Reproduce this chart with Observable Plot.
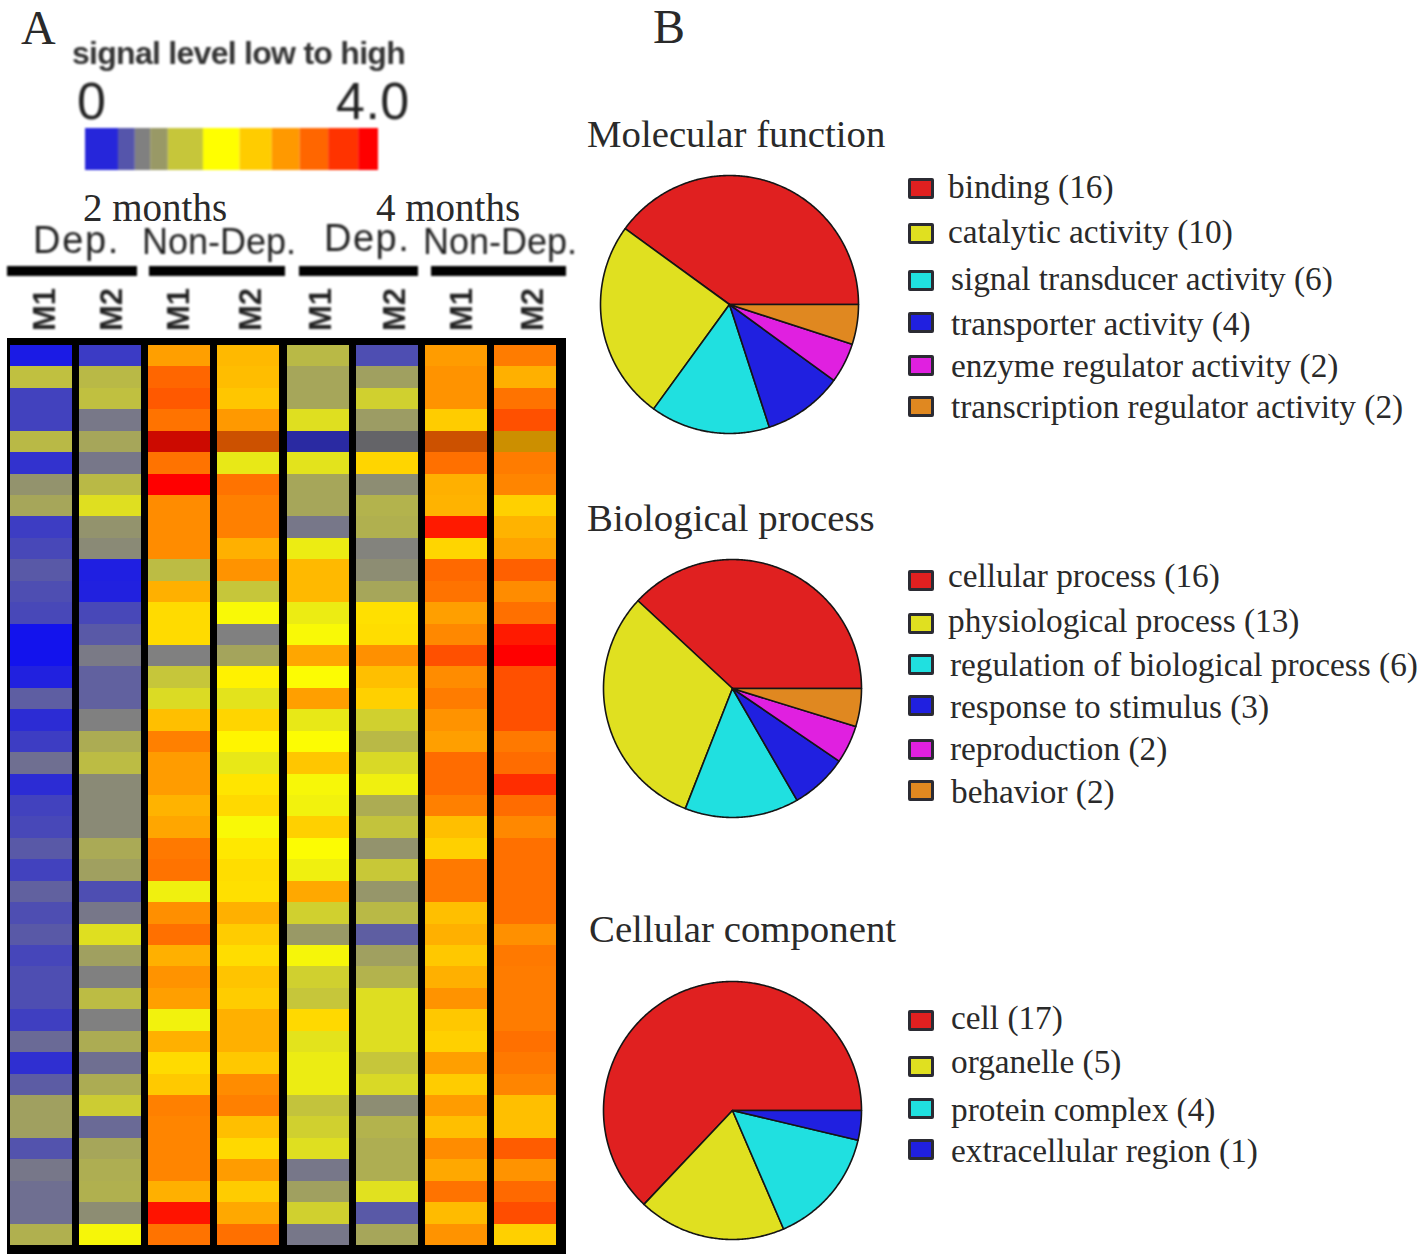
<!DOCTYPE html>
<html><head><meta charset="utf-8">
<script src="https://cdn.jsdelivr.net/npm/d3@7"></script>
<script src="https://cdn.jsdelivr.net/npm/@observablehq/plot@0.6"></script>
<style>
html,body{margin:0;padding:0;background:#fff}
#page{position:relative;width:1428px;height:1256px;overflow:hidden}
#page>*{position:absolute}
.t{white-space:nowrap;line-height:1;color:#2a2a2a}
.serif{font-family:"Liberation Serif",serif}
.sans{font-family:"Liberation Sans",sans-serif;color:#222;filter:blur(.8px)}
.sw{width:20px;height:15px;border:3px solid #2b2b33;border-radius:2px;filter:blur(.7px)}
.heat [aria-label="cell"]{filter:blur(.5px)}
.bar [aria-label="rect"]{filter:blur(.9px)}
.pie [aria-label="geo"]{filter:blur(.35px)}
svg{overflow:visible;background:transparent!important}
</style></head><body><div id="page"></div>
<script>
// ---- Panel A: signal level per probe (rows, top to bottom) and sample column
const dep2M1 =[.1,1.5,.45,.45,1.45,.3,1.15,1.3,.4,.5,.65,.55,.5,.03,.03,.15,.7,.25,.4,.85,.25,.45,.5,.65,.45,.72,.55,.65,.48,.55,.55,.42,.8,.28,.68,1.25,1.25,.6,.92,.85,.85,1.38];
const dep2M2 =[.38,1.45,1.5,.93,1.3,.92,1.45,1.75,1.15,1.08,.13,.15,.5,.65,.95,.72,.72,1,1.35,1.47,1.08,1.08,1.08,1.33,1.25,.55,.92,1.75,1.25,1,1.47,1,1.35,.85,1.35,1.6,.8,1.3,1.36,1.38,1.1,1.93];
const non2M1 =[2.75,3.2,3.3,3.1,3.9,3.1,4,2.9,2.9,2.9,1.47,2.62,2.28,2.28,1,1.55,1.72,2.5,3,2.78,2.78,2.6,2.7,3.05,3.1,1.88,2.88,3.12,2.62,2.85,2.75,1.9,2.62,2.28,2.42,3,2.96,2.96,2.96,2.62,3.85,3.1];
const non2M2 =[2.55,2.52,2.45,2.8,3.2,1.82,3.1,3,3,2.62,2.85,1.55,1.95,1,1.28,2.1,1.78,2.33,2.08,1.82,2.2,2.3,1.95,2.18,2.27,2.24,2.62,2.4,2.27,2.46,2.4,2.62,2.62,2.43,2.9,3,2.5,2.3,2.78,2.4,2.68,3.12];
const dep4M1 =[1.45,1.3,1.3,1.75,.33,1.78,1.3,1.3,.92,1.85,2.55,2.55,1.85,1.95,2.7,1.98,2.75,1.82,1.98,2.45,1.94,1.9,2.37,1.98,1.88,2.68,1.63,1.2,1.93,1.63,1.55,2.3,1.78,1.85,1.85,1.53,1.63,1.75,.92,1.25,1.63,.92];
const dep4M2 =[.55,1.25,1.63,1.22,.97,2.33,1.1,1.4,1.38,1.02,1.1,1.3,2.24,2.27,2.87,2.5,2.37,1.63,1.45,1.7,1.88,1.35,1.53,1.15,1.57,1.17,1.45,.7,1.25,1.4,1.74,1.74,1.74,1.55,1.7,1.1,1.4,1.36,1.36,1.76,.65,1.3];
const non4M1 =[2.78,2.85,2.85,2.4,3.2,3.12,2.62,2.6,3.8,2.33,3.18,3.1,2.75,2.93,3.37,2.9,3.03,2.85,2.75,3.15,3.15,3,2.5,2.37,3.05,3.05,2.5,2.62,2.43,2.62,2.85,2.43,2.37,2.75,2.4,2.78,2.5,2.9,2.68,3.1,2.53,2.85];
const non4M2 =[3.03,2.62,3.1,3.37,2.6,3.03,2.96,2.37,2.6,2.72,3.25,2.9,3.12,3.8,4,3.37,3.37,3.37,3.05,3.15,3.65,3.15,2.93,3.12,3.12,3.12,3.12,2.87,3.05,3.03,3.03,3.03,3.12,3.05,2.96,2.5,2.5,3.28,2.85,3.18,3.4,2.37];
const sampleColumns=[["2m Dep. M1",dep2M1],["2m Dep. M2",dep2M2],["2m Non-Dep. M1",non2M1],["2m Non-Dep. M2",non2M2],["4m Dep. M1",dep4M1],["4m Dep. M2",dep4M2],["4m Non-Dep. M1",non4M1],["4m Non-Dep. M2",non4M2]];
const sampleTicks=["M1","M2","M1","M2","M1","M2","M1","M2"];
const darkRows=[4];
// Colour key
const signalStops=[0,1,2,4];
const signalColors=["#1010f0","#808080","#ffff00","#ff0000"];
const keyFrom=[0,.45,.68,.89,1.13,1.61,2.11,2.55,2.93,3.32,3.73];
const keyTo  =[.45,.68,.89,1.13,1.61,2.11,2.55,2.93,3.32,3.73,4];
const keyValue=[.2,.62,1,1.2,1.55,2,2.4,2.8,3.2,3.6,4];
// ---- Panel B: gene ontology categories
const sliceColors=["#e02020","#e0e020","#20e0e0","#2020e0","#e020e0","#e08820"];
const molLabels=["binding (16)","catalytic activity (10)","signal transducer activity (6)","transporter activity (4)","enzyme regulator activity (2)","transcription regulator activity (2)"];
const molCounts=[16,10,6,4,2,2];
const bioLabels=["cellular process (16)","physiological process (13)","regulation of biological process (6)","response to stimulus (3)","reproduction (2)","behavior (2)"];
const bioCounts=[16,13,6,3,2,2];
const celLabels=["cell (17)","organelle (5)","protein complex (4)","extracellular region (1)"];
const celCounts=[17,5,4,1];

// ---- Layout (pixels on the page)
const page=document.getElementById("page");
function put(el,left,top){el.style.left=left+"px";el.style.top=top+"px";page.appendChild(el);return el}
function text(s,cls,left,top,size,extra=""){const d=document.createElement("div");d.className="t "+cls;d.textContent=s;d.style.cssText="font-size:"+size+"px;"+extra;return put(d,left,top)}
text("A","serif",21,4,48);
text("B","serif",653,3,48);
text("signal level low to high","sans",72,37,32,"letter-spacing:-.72px;font-weight:bold;color:#333");
text("0","sans",77,75,52);
text("4.0","sans",336,75,52,"letter-spacing:.5px");
text("2 months","serif",83,188,39);
text("4 months","serif",376,188,39);
text("Dep.","sans",33,221,38,"letter-spacing:1.7px");
text("Non-Dep.","sans",142,224,36);
text("Dep.","sans",324,219,38,"letter-spacing:1.5px");
text("Non-Dep.","sans",423,224,36);
// Rotated sample labels above each column
const tickLeft=[28.5,95.5,162.5,234.5,304.5,378.5,445.5,516.5];
sampleTicks.forEach((s,i)=>{
  text(s,"sans",tickLeft[i],331,31,"font-weight:bold;transform-origin:0 0;transform:rotate(-90deg)");
});

const color={type:"linear",domain:signalStops,range:signalColors,interpolate:"rgb"};
// Colour key
const key=keyValue.map((v,i)=>({from:keyFrom[i],to:keyTo[i],value:v}));
const keyPlot=Plot.plot({width:293,height:42,margin:0,x:{domain:[0,4],axis:null},y:{domain:[0,1],axis:null},color,
  marks:[Plot.rect(key,{x1:"from",x2:"to",y1:()=>0,y2:()=>1,fill:"value"})]});
keyPlot.style.filter="blur(1px)";
put(keyPlot,85,128);

// Group rules above the heatmap
const groupRules=[[7,137],[149,285],[299,418],[431,566]];
const barPlot=Plot.plot({width:570,height:10,margin:0,className:"bar",x:{type:"identity",axis:null},y:{domain:[0,1],axis:null},
  marks:[Plot.rect(groupRules,{x1:d=>d[0],x2:d=>d[1],y1:()=>0,y2:()=>1,fill:"#000"})]});
put(barPlot,0,266);

// Heatmap
const cells=sampleColumns.flatMap(([name,vals])=>vals.map((v,row)=>({name,row,value:v})));
const shade=sampleColumns.slice(2).flatMap(([name])=>darkRows.map(row=>({name,row})));
const heat=Plot.plot({width:570,height:978,marginLeft:7,marginRight:5,marginTop:60,marginBottom:3,className:"heat",
  x:{domain:sampleColumns.map(c=>c[0]),insetLeft:3,insetRight:9,paddingInner:.105,paddingOuter:0,round:false,axis:null},
  y:{domain:d3.range(dep2M1.length),insetTop:7,insetBottom:8,padding:0,round:false,axis:null},
  color,
  marks:[
    Plot.frame({fill:"#000",stroke:"#000"}),
    Plot.cell(cells,{x:"name",y:"row",fill:"value",shapeRendering:"crispEdges"}),
    Plot.cell(shade,{x:"name",y:"row",fill:"#000",fillOpacity:.2,shapeRendering:"crispEdges"})
  ]});
put(heat,0,278);

// Pies
const R=129;
function slices(labels,counts){
  const total=d3.sum(counts);let a=0;
  return counts.map((c,i)=>{
    const a0=a;a+=c/total*2*Math.PI;
    const n=Math.max(2,Math.ceil((a-a0)/0.01));
    const ring=[[0,0]];
    for(let k=0;k<=n;k++){const t=a0+(a-a0)*k/n;ring.push([Math.cos(t),Math.sin(t)])}
    ring.push([0,0]);
    return {type:"Feature",properties:{label:labels[i]},geometry:{type:"Polygon",coordinates:[ring]}};
  });
}
function pie(labels,counts,cx,cy){
  const s=R+4;
  const p=Plot.plot({width:2*s,height:2*s,margin:0,className:"pie",
    projection:d3.geoIdentity().reflectY(true).scale(R).translate([s,s]),
    color:{type:"ordinal",domain:labels,range:sliceColors.slice(0,labels.length)},
    marks:[Plot.geo(slices(labels,counts),{fill:d=>d.properties.label,stroke:"#151515",strokeWidth:1.6})]});
  put(p,cx-s,cy-s);
}
function legend(labels,textX,textY,swY){
  labels.forEach((l,i)=>{
    const sw=document.createElement("div");sw.className="sw";sw.style.background=sliceColors[i];
    put(sw,908,swY[i]-10);
    text(l,"serif",textX[i],textY[i]-18,33.3);
  });
}
text("Molecular function","serif",587,115,38.8);
pie(molLabels,molCounts,729,304);
legend(molLabels,[948,948,951,951,951,951],[188,233,280,325,367,408],[188,233,280,322,365,406]);
text("Biological process","serif",587,499,38.8);
pie(bioLabels,bioCounts,732,688);
legend(bioLabels,[948,948,950,950,950,951],[577,622,666,708,750,793],[580,623,664,705,749,790]);
text("Cellular component","serif",589,910,38.8);
pie(celLabels,celCounts,732,1110);
legend(celLabels,[951,951,951,951],[1019,1063,1111,1152],[1020,1066,1108,1149]);
</script></body></html>
